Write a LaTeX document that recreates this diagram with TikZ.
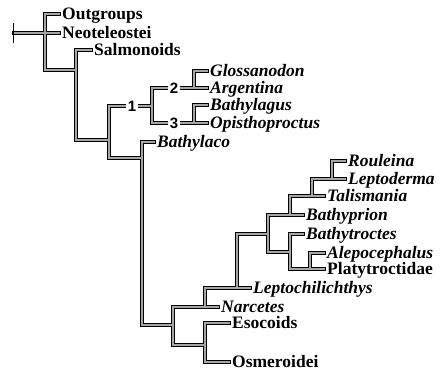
\documentclass[tikz,border=0pt]{standalone}
\usepackage{fontspec}
\setmainfont{Liberation Serif}
\newfontfamily\numfont{Liberation Sans}
\begin{document}
\begin{tikzpicture}[x=1pt,y=-1pt,
  lab/.style={anchor=west, inner xsep=3pt, inner ysep=0pt, text height=11pt, text depth=0pt, font=\fontsize{17.5}{20}\selectfont\bfseries},
  gen/.style={lab, font=\fontsize{17.5}{20}\selectfont\bfseries\itshape},
  num/.style={inner xsep=3pt, inner ysep=0pt, text height=10pt, text depth=0pt, font=\fontsize{15}{17}\selectfont\numfont\bfseries},
  outerline/.style={line width=3.6pt, black, line cap=rect, line join=miter},
  innerline/.style={line width=1.8pt, black!35, line cap=rect, line join=miter},
  tickline/.style={line width=1pt, black}]
\useasboundingbox (0,0) rectangle (440,372);
% internal nodes
\coordinate (T) at (14,33);
\coordinate (Tt) at (13,23);
\coordinate (Tb) at (13,43);
\coordinate (R) at (45,33);
\coordinate (N76) at (76,70);
\coordinate (N109) at (109,140);
\coordinate (N142) at (142,158);
\coordinate (N152) at (152,106);
\coordinate (N194a) at (194,88);
\coordinate (N194b) at (194,123);
\coordinate (N173) at (173,325);
\coordinate (N205a) at (205,307);
\coordinate (N205b) at (205,345);
\coordinate (N237) at (237,288);
\coordinate (N268) at (268,234);
\coordinate (N290a) at (290,215);
\coordinate (N312) at (312,196);
\coordinate (N332) at (332,179);
\coordinate (N290b) at (290,252);
\coordinate (N310) at (310,269);
% labels
\node[lab] (Out) at (59,14) {Outgroups};
\node[lab] (Neo) at (59,33) {Neoteleostei};
\node[lab] (Sal) at (91,50) {Salmonoids};
\node[gen] (Glo) at (207,71) {Glossanodon};
\node[gen] (Arg) at (207,88) {Argentina};
\node[gen] (Bla) at (207,105) {Bathylagus};
\node[gen] (Opi) at (207,123) {Opisthoproctus};
\node[gen] (Bco) at (154,142) {Bathylaco};
\node[gen] (Rou) at (345,161) {Rouleina};
\node[gen] (Lde) at (345,179) {Leptoderma};
\node[gen] (Tal) at (324,196) {Talismania};
\node[gen] (Bpr) at (303,215) {Bathyprion};
\node[gen] (Btr) at (303,234) {Bathytroctes};
\node[gen] (Ale) at (324,253) {Alepocephalus};
\node[lab] (Pla) at (324,269) {Platytroctidae};
\node[gen] (Lch) at (250,288) {Leptochilichthys};
\node[gen] (Nar) at (218,307) {Narcetes};
\node[lab] (Eso) at (229,323) {Esocoids};
\node[lab] (Osm) at (229,362) {Osmeroidei};
\node[num] (one) at (132,106) {1};
\node[num] (two) at (174,88) {2};
\node[num] (three) at (174,123) {3};
\foreach \s in {outerline,innerline}{
\draw[\s]
 (T) -- (Neo.west)
 (R|-Out.west) -- (R|-N76)
 (R|-Out.west) -- (Out.west)
 (R|-N76) -- (N76)
 (N76|-Sal.west) -- (N76|-N109)
 (N76|-Sal.west) -- (Sal.west)
 (N76|-N109) -- (N109)
 (N109|-one.west) -- (N109|-N142)
 (N109|-one.west) -- (one.west)
 (one.east) -- (N152)
 (N109|-N142) -- (N142)
 (N152|-two.west) -- (N152|-three.west)
 (N152|-two.west) -- (two.west)
 (two.east) -- (N194a)
 (N152|-three.west) -- (three.west)
 (three.east) -- (N194b)
 (N194a|-Glo.west) -- (N194a|-Arg.west)
 (N194a|-Glo.west) -- (Glo.west)
 (N194a|-Arg.west) -- (Arg.west)
 (N194b|-Bla.west) -- (N194b|-Opi.west)
 (N194b|-Bla.west) -- (Bla.west)
 (N194b|-Opi.west) -- (Opi.west)
 (N142|-Bco.west) -- (N142|-N173)
 (N142|-Bco.west) -- (Bco.west)
 (N142|-N173) -- (N173)
 (N173|-N205a) -- (N173|-N205b)
 (N173|-N205a) -- (N205a)
 (N173|-N205b) -- (N205b)
 (N205a|-N237) -- (N205a|-Nar.west)
 (N205a|-N237) -- (N237)
 (N205a|-Nar.west) -- (Nar.west)
 (N237|-N268) -- (N237|-Lch.west)
 (N237|-N268) -- (N268)
 (N237|-Lch.west) -- (Lch.west)
 (N268|-N290a) -- (N268|-N290b)
 (N268|-N290a) -- (N290a)
 (N268|-N290b) -- (N290b)
 (N290a|-N312) -- (N290a|-Bpr.west)
 (N290a|-N312) -- (N312)
 (N290a|-Bpr.west) -- (Bpr.west)
 (N312|-N332) -- (N312|-Tal.west)
 (N312|-N332) -- (N332)
 (N312|-Tal.west) -- (Tal.west)
 (N332|-Rou.west) -- (N332|-Lde.west)
 (N332|-Rou.west) -- (Rou.west)
 (N332|-Lde.west) -- (Lde.west)
 (N290b|-Btr.west) -- (N290b|-N310)
 (N290b|-Btr.west) -- (Btr.west)
 (N290b|-N310) -- (N310)
 (N310|-Ale.west) -- (N310|-Pla.west)
 (N310|-Ale.west) -- (Ale.west)
 (N310|-Pla.west) -- (Pla.west)
 (N205b|-Eso.west) -- (N205b|-Osm.west)
 (N205b|-Eso.west) -- (Eso.west)
 (N205b|-Osm.west) -- (Osm.west);
}
\draw[tickline] (Tt) -- (Tb);
\end{tikzpicture}
\end{document}
